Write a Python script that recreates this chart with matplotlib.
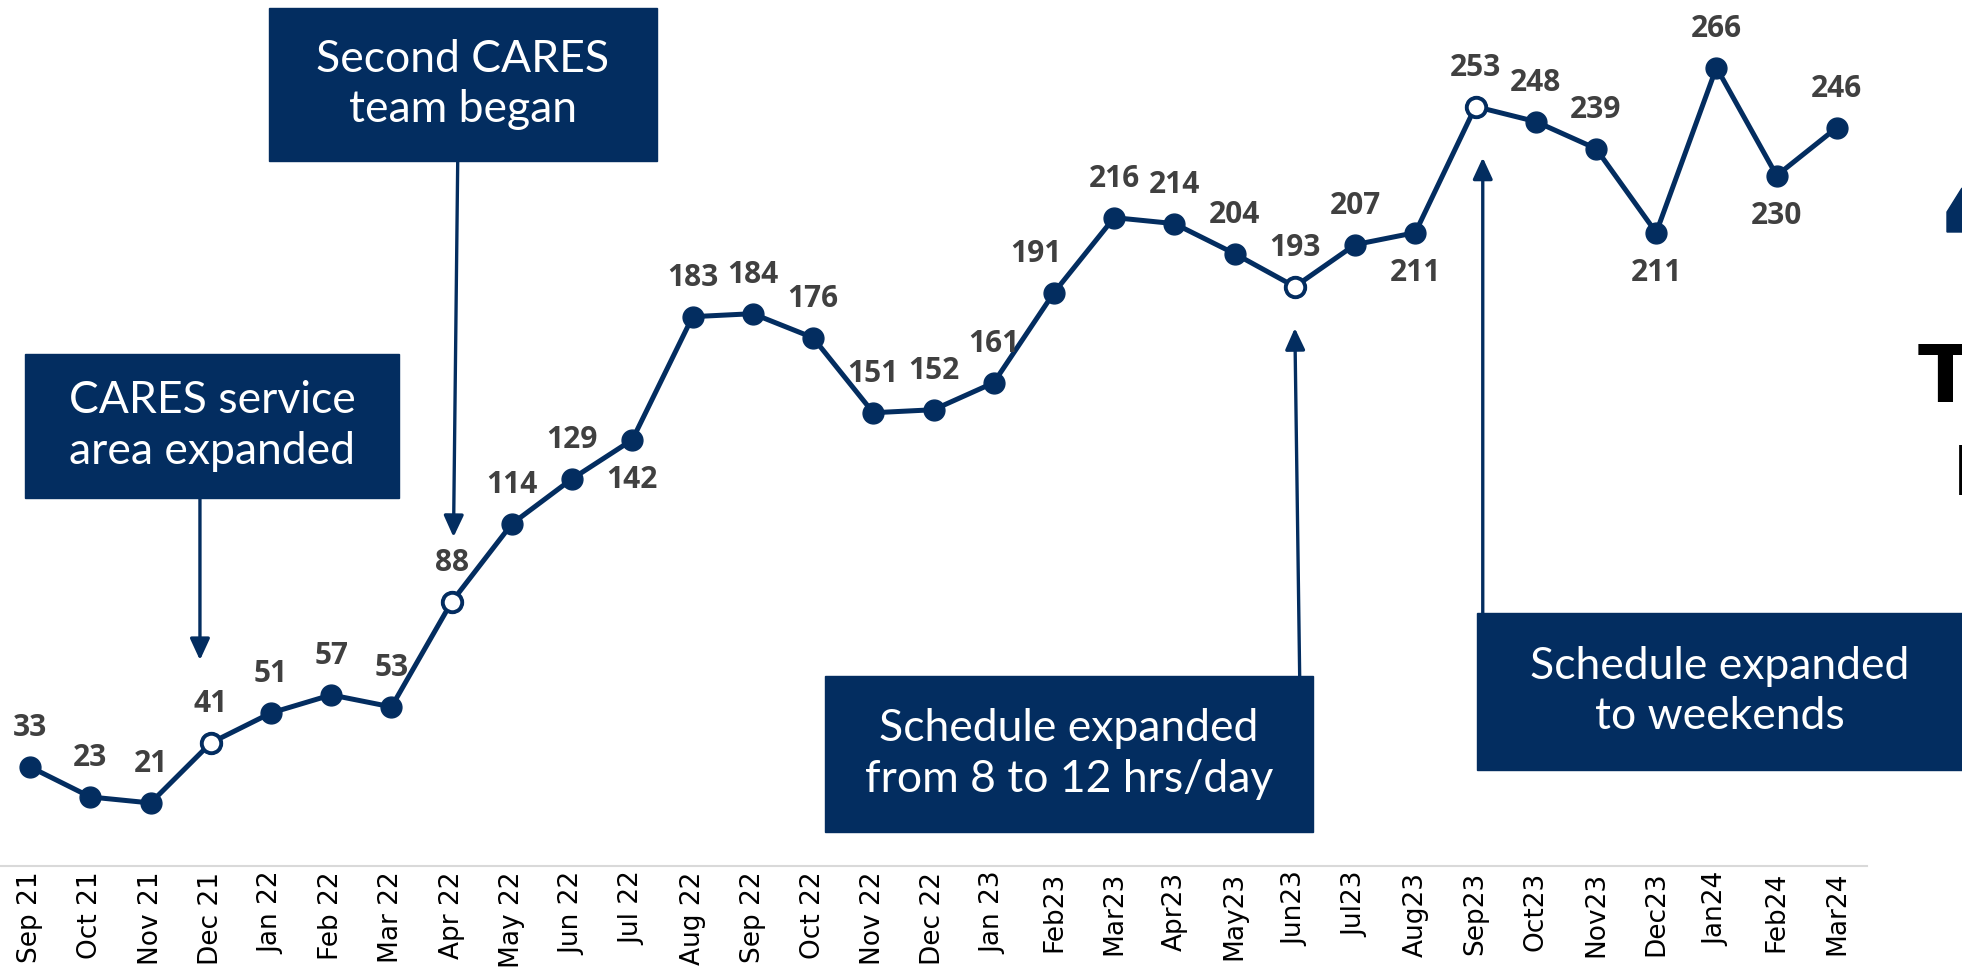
import matplotlib.pyplot as plt
from matplotlib.patches import Rectangle, Polygon

months = ["Sep 21", "Oct 21", "Nov 21", "Dec 21", "Jan 22", "Feb 22", "Mar 22",
          "Apr 22", "May 22", "Jun 22", "Jul 22", "Aug 22", "Sep 22", "Oct 22",
          "Nov 22", "Dec 22", "Jan 23", "Feb23", "Mar23", "Apr23", "May23",
          "Jun23", "Jul23", "Aug23", "Sep23", "Oct23", "Nov23", "Dec23",
          "Jan24", "Feb24", "Mar24"]
counts = [33, 23, 21, 41, 51, 57, 53, 88, 114, 129, 142, 183, 184, 176, 151,
          152, 161, 191, 216, 214, 204, 193, 207, 211, 253, 248, 239, 211,
          266, 230, 246]
# months where a program change happened (hollow markers)
milestones = ["Dec 21", "Apr 22", "Jun23", "Sep23"]
# labels placed under the point
below = ["Jul 22", "Aug23", "Dec23", "Feb24"]

notes = ["CARES service\narea expanded", "Second CARES\nteam began",
         "Schedule expanded\nfrom 8 to 12 hrs/day", "Schedule expanded\nto weekends"]

NAVY = "#032d60"
W, H = 1962, 974

fig = plt.figure(figsize=(W / 100, H / 100), dpi=100)
ax = fig.add_axes([0, 108 / H, 1867 / W, 866 / H])

x = list(range(len(months)))
ax.plot(x, counts, color=NAVY, lw=3.6, marker="o", ms=15, mfc=NAVY, mec=NAVY, zorder=3)
hx = [months.index(m) for m in milestones]
ax.plot(hx, [counts[i] for i in hx], ls="none", marker="o", ms=14, mfc="white",
        mec=NAVY, mew=2.8, zorder=4)

for i, v in enumerate(counts):
    dx = -13 if months[i] == "Feb23" else 0
    dy = -29 if months[i] in below else 28
    ax.annotate(str(v), (i, v), xytext=(dx, dy), textcoords="offset points",
                ha="center", va="center", fontsize=21.5, fontweight="bold",
                family="Open Sans", color="#404040", zorder=5)

ax.set_xlim(-0.5, 30.5)
ax.set_ylim(0, 288.5)
ax.set_xticks(x)
ax.set_xticklabels(months, rotation=90, fontsize=19, family="DejaVu Sans")
ax.tick_params(axis="x", length=0, pad=4)
ax.set_yticks([])
for s in ["left", "right", "top"]:
    ax.spines[s].set_visible(False)
ax.spines["bottom"].set_color("#d9d9d9")
ax.spines["bottom"].set_linewidth(1.5)

# annotation boxes (figure pixel coords: x0, y0 top, x1, y1 bottom)
boxes = [(25, 354, 399, 498), (269, 8, 657, 161), (825, 676, 1313, 832), (1477, 613, 1962, 770)]
for (x0, y0, x1, y1), txt in zip(boxes, notes):
    fig.patches.append(Rectangle((x0 / W, 1 - y1 / H), (x1 - x0) / W, (y1 - y0) / H,
                                 transform=fig.transFigure, color=NAVY, zorder=1))
    fig.text((x0 + x1) / 2 / W, 1 - (y0 + y1) / 2 / H, txt, ha="center", va="center",
             color="white", fontsize=32, family="Lato", linespacing=1.3, zorder=2)

# arrows from the boxes to the line (data coords)
arrows = [((2.82, 122.6), (2.82, 68.6)), ((7.1, 234.8), (7.03, 109.6)),
          ((21.08, 63.3), (21.0, 179.2)), ((24.12, 84.3), (24.12, 236.0))]
for start, end in arrows:
    ax.annotate("", xy=end, xytext=start,
                arrowprops=dict(arrowstyle="-|>,head_length=1.3,head_width=0.6",
                                color=NAVY, lw=2.4, shrinkA=0, shrinkB=0), zorder=2)

# partly visible elements cut at the right edge
fig.patches.append(Polygon([(1947 / W, 1 - 232 / H), (1947 / W, 1 - 212 / H),
                            (1962 / W, 1 - 188 / H), (1962 / W, 1 - 232 / H)],
                           closed=True, transform=fig.transFigure, color=NAVY))
fig.text(1918 / W, 1 - 402 / H, "Total", ha="left", va="baseline", fontsize=58,
         fontweight="bold", color="black")
fig.text(1953 / W, 1 - 495 / H, "Encounters", ha="left", va="baseline", fontsize=48,
         fontweight="bold", color="black")

fig.savefig("out.png", dpi=100)
